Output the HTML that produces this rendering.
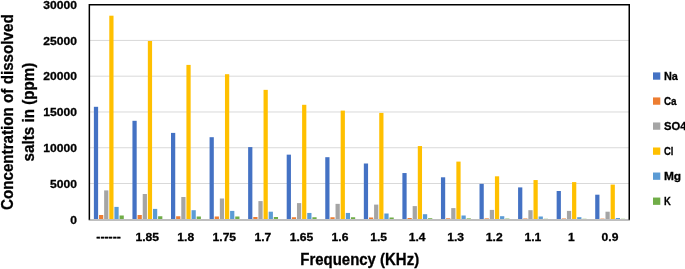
<!DOCTYPE html>
<html lang="en"><head><meta charset="utf-8"><title>Concentration of dissolved salts vs Frequency</title>
<style>html,body{margin:0;padding:0;background:#fff}svg{display:block}text{font-family:"Liberation Sans",sans-serif;font-weight:bold;fill:#000;stroke:#000;stroke-width:0.3px}</style></head><body>
<svg width="685" height="269" viewBox="0 0 685 269">
<rect width="685" height="269" fill="#fff"/>
<g stroke="#D9D9D9" stroke-width="1">
<line x1="89.35" y1="183.53" x2="629.25" y2="183.53"/>
<line x1="89.35" y1="147.75" x2="629.25" y2="147.75"/>
<line x1="89.35" y1="111.98" x2="629.25" y2="111.98"/>
<line x1="89.35" y1="76.20" x2="629.25" y2="76.20"/>
<line x1="89.35" y1="40.43" x2="629.25" y2="40.43"/>
</g>
<g fill="#4472C4">
<rect x="93.88" y="106.80" width="4.24" height="112.50"/>
<rect x="132.44" y="120.80" width="4.24" height="98.50"/>
<rect x="171.00" y="132.90" width="4.24" height="86.40"/>
<rect x="209.57" y="137.20" width="4.24" height="82.10"/>
<rect x="248.13" y="147.10" width="4.24" height="72.20"/>
<rect x="286.70" y="154.65" width="4.24" height="64.65"/>
<rect x="325.26" y="157.20" width="4.24" height="62.10"/>
<rect x="363.83" y="163.50" width="4.24" height="55.80"/>
<rect x="402.39" y="173.05" width="4.24" height="46.25"/>
<rect x="440.95" y="177.30" width="4.24" height="42.00"/>
<rect x="479.52" y="183.85" width="4.24" height="35.45"/>
<rect x="518.08" y="187.40" width="4.24" height="31.90"/>
<rect x="556.65" y="191.00" width="4.24" height="28.30"/>
<rect x="595.21" y="194.70" width="4.24" height="24.60"/>
</g>
<g fill="#ED7D31">
<rect x="99.01" y="215.00" width="4.24" height="4.30"/>
<rect x="137.57" y="215.00" width="4.24" height="4.30"/>
<rect x="176.14" y="216.25" width="4.24" height="3.05"/>
<rect x="214.70" y="216.50" width="4.24" height="2.80"/>
<rect x="253.27" y="217.00" width="4.24" height="2.30"/>
<rect x="291.83" y="217.25" width="4.24" height="2.05"/>
<rect x="330.40" y="217.25" width="4.24" height="2.05"/>
<rect x="368.96" y="217.50" width="4.24" height="1.80"/>
<rect x="407.52" y="218.00" width="4.24" height="1.30"/>
<rect x="446.09" y="218.30" width="4.24" height="1.00"/>
<rect x="484.65" y="218.40" width="4.24" height="0.90"/>
<rect x="523.22" y="218.50" width="4.24" height="0.80"/>
<rect x="561.78" y="218.50" width="4.24" height="0.80"/>
<rect x="600.35" y="218.60" width="4.24" height="0.70"/>
</g>
<g fill="#A5A5A5">
<rect x="104.14" y="190.40" width="4.24" height="28.90"/>
<rect x="142.71" y="194.00" width="4.24" height="25.30"/>
<rect x="181.27" y="197.00" width="4.24" height="22.30"/>
<rect x="219.84" y="198.50" width="4.24" height="20.80"/>
<rect x="258.40" y="201.10" width="4.24" height="18.20"/>
<rect x="296.97" y="203.10" width="4.24" height="16.20"/>
<rect x="335.53" y="203.85" width="4.24" height="15.45"/>
<rect x="374.09" y="204.60" width="4.24" height="14.70"/>
<rect x="412.66" y="206.10" width="4.24" height="13.20"/>
<rect x="451.22" y="208.10" width="4.24" height="11.20"/>
<rect x="489.79" y="209.90" width="4.24" height="9.40"/>
<rect x="528.35" y="210.20" width="4.24" height="9.10"/>
<rect x="566.92" y="210.90" width="4.24" height="8.40"/>
<rect x="605.48" y="211.70" width="4.24" height="7.60"/>
</g>
<g fill="#FFC000">
<rect x="109.28" y="15.70" width="4.24" height="203.60"/>
<rect x="147.84" y="41.00" width="4.24" height="178.30"/>
<rect x="186.41" y="64.90" width="4.24" height="154.40"/>
<rect x="224.97" y="74.20" width="4.24" height="145.10"/>
<rect x="263.54" y="89.85" width="4.24" height="129.45"/>
<rect x="302.10" y="104.80" width="4.24" height="114.50"/>
<rect x="340.66" y="110.60" width="4.24" height="108.70"/>
<rect x="379.23" y="112.90" width="4.24" height="106.40"/>
<rect x="417.79" y="146.05" width="4.24" height="73.25"/>
<rect x="456.36" y="161.60" width="4.24" height="57.70"/>
<rect x="494.92" y="176.30" width="4.24" height="43.00"/>
<rect x="533.49" y="180.05" width="4.24" height="39.25"/>
<rect x="572.05" y="182.10" width="4.24" height="37.20"/>
<rect x="610.61" y="184.60" width="4.24" height="34.70"/>
</g>
<g fill="#5B9BD5">
<rect x="114.41" y="206.90" width="4.24" height="12.40"/>
<rect x="152.98" y="208.90" width="4.24" height="10.40"/>
<rect x="191.54" y="210.20" width="4.24" height="9.10"/>
<rect x="230.10" y="210.90" width="4.24" height="8.40"/>
<rect x="268.67" y="211.70" width="4.24" height="7.60"/>
<rect x="307.23" y="212.95" width="4.24" height="6.35"/>
<rect x="345.80" y="212.95" width="4.24" height="6.35"/>
<rect x="384.36" y="213.50" width="4.24" height="5.80"/>
<rect x="422.93" y="214.20" width="4.24" height="5.10"/>
<rect x="461.49" y="215.50" width="4.24" height="3.80"/>
<rect x="500.05" y="216.20" width="4.24" height="3.10"/>
<rect x="538.62" y="216.50" width="4.24" height="2.80"/>
<rect x="577.18" y="217.20" width="4.24" height="2.10"/>
<rect x="615.75" y="218.00" width="4.24" height="1.30"/>
</g>
<g fill="#70AD47">
<rect x="119.55" y="215.50" width="4.24" height="3.80"/>
<rect x="158.11" y="216.25" width="4.24" height="3.05"/>
<rect x="196.67" y="216.50" width="4.24" height="2.80"/>
<rect x="235.24" y="216.50" width="4.24" height="2.80"/>
<rect x="273.80" y="217.00" width="4.24" height="2.30"/>
<rect x="312.37" y="217.25" width="4.24" height="2.05"/>
<rect x="350.93" y="217.25" width="4.24" height="2.05"/>
<rect x="389.50" y="217.50" width="4.24" height="1.80"/>
<rect x="428.06" y="218.25" width="4.24" height="1.05"/>
<rect x="466.62" y="218.40" width="4.24" height="0.90"/>
<rect x="505.19" y="218.60" width="4.24" height="0.70"/>
<rect x="543.75" y="218.80" width="4.24" height="0.50"/>
<rect x="582.32" y="218.80" width="4.24" height="0.50"/>
<rect x="620.88" y="218.80" width="4.24" height="0.50"/>
</g>
<line x1="88.64999999999999" y1="219.9" x2="629.95" y2="219.9" stroke="#BFBFBF" stroke-width="2"/>
<path d="M89.35 219.7 V4.65 H629.25 V219.7" fill="none" stroke="#000" stroke-width="1.5"/>
<g font-size="11.7" text-anchor="end">
<text x="76.9" y="223.55" textLength="6.7" lengthAdjust="spacingAndGlyphs">0</text>
<text x="76.9" y="187.78" textLength="26.9" lengthAdjust="spacingAndGlyphs">5000</text>
<text x="76.9" y="152.00" textLength="33.6" lengthAdjust="spacingAndGlyphs">10000</text>
<text x="76.9" y="116.23" textLength="33.6" lengthAdjust="spacingAndGlyphs">15000</text>
<text x="76.9" y="80.45" textLength="33.6" lengthAdjust="spacingAndGlyphs">20000</text>
<text x="76.9" y="44.68" textLength="33.6" lengthAdjust="spacingAndGlyphs">25000</text>
<text x="76.9" y="8.90" textLength="33.6" lengthAdjust="spacingAndGlyphs">30000</text>
</g>
<g font-size="11.7" text-anchor="middle">
<text x="108.63" y="240.35" stroke-width="0.55" textLength="24.6" lengthAdjust="spacingAndGlyphs">------</text>
<text x="147.20" y="240.9" textLength="23.6" lengthAdjust="spacingAndGlyphs">1.85</text>
<text x="185.76" y="240.9" textLength="16.8" lengthAdjust="spacingAndGlyphs">1.8</text>
<text x="224.32" y="240.9" textLength="23.6" lengthAdjust="spacingAndGlyphs">1.75</text>
<text x="262.89" y="240.9" textLength="16.8" lengthAdjust="spacingAndGlyphs">1.7</text>
<text x="301.45" y="240.9" textLength="23.6" lengthAdjust="spacingAndGlyphs">1.65</text>
<text x="340.02" y="240.9" textLength="16.8" lengthAdjust="spacingAndGlyphs">1.6</text>
<text x="378.58" y="240.9" textLength="16.8" lengthAdjust="spacingAndGlyphs">1.5</text>
<text x="417.15" y="240.9" textLength="16.8" lengthAdjust="spacingAndGlyphs">1.4</text>
<text x="455.71" y="240.9" textLength="16.8" lengthAdjust="spacingAndGlyphs">1.3</text>
<text x="494.27" y="240.9" textLength="16.8" lengthAdjust="spacingAndGlyphs">1.2</text>
<text x="532.84" y="240.9" textLength="16.8" lengthAdjust="spacingAndGlyphs">1.1</text>
<text x="571.40" y="240.9" textLength="6.7" lengthAdjust="spacingAndGlyphs">1</text>
<text x="609.97" y="240.9" textLength="16.8" lengthAdjust="spacingAndGlyphs">0.9</text>
</g>
<text x="359.7" y="265.3" font-size="16.3" text-anchor="middle" textLength="118.9" lengthAdjust="spacingAndGlyphs">Frequency (KHz)</text>
<text transform="translate(12.6 112.2) rotate(-90)" font-size="16.3" text-anchor="middle" textLength="195.8" lengthAdjust="spacingAndGlyphs">Concentration of dissolved</text>
<text transform="translate(34.4 112) rotate(-90)" font-size="16.3" text-anchor="middle" textLength="98.8" lengthAdjust="spacingAndGlyphs">salts in (ppm)</text>
<g font-size="11.7" stroke-width="0.4">
<rect x="653" y="72.40" width="7.3" height="7.3" fill="#4472C4"/>
<text x="663.9" y="79.70" textLength="13.9" lengthAdjust="spacingAndGlyphs">Na</text>
<rect x="653" y="97.43" width="7.3" height="7.3" fill="#ED7D31"/>
<text x="663.9" y="104.73" textLength="12.6" lengthAdjust="spacingAndGlyphs">Ca</text>
<rect x="653" y="122.46" width="7.3" height="7.3" fill="#A5A5A5"/>
<text x="663.9" y="129.76" textLength="22.5" lengthAdjust="spacingAndGlyphs">SO4</text>
<rect x="653" y="147.49" width="7.3" height="7.3" fill="#FFC000"/>
<text x="663.9" y="154.79" textLength="9.4" lengthAdjust="spacingAndGlyphs">Cl</text>
<rect x="653" y="172.52" width="7.3" height="7.3" fill="#5B9BD5"/>
<text x="663.9" y="179.82" textLength="17.2" lengthAdjust="spacingAndGlyphs">Mg</text>
<rect x="653" y="197.55" width="7.3" height="7.3" fill="#70AD47"/>
<text x="663.9" y="204.85" textLength="6.8" lengthAdjust="spacingAndGlyphs">K</text>
</g>
</svg></body></html>
